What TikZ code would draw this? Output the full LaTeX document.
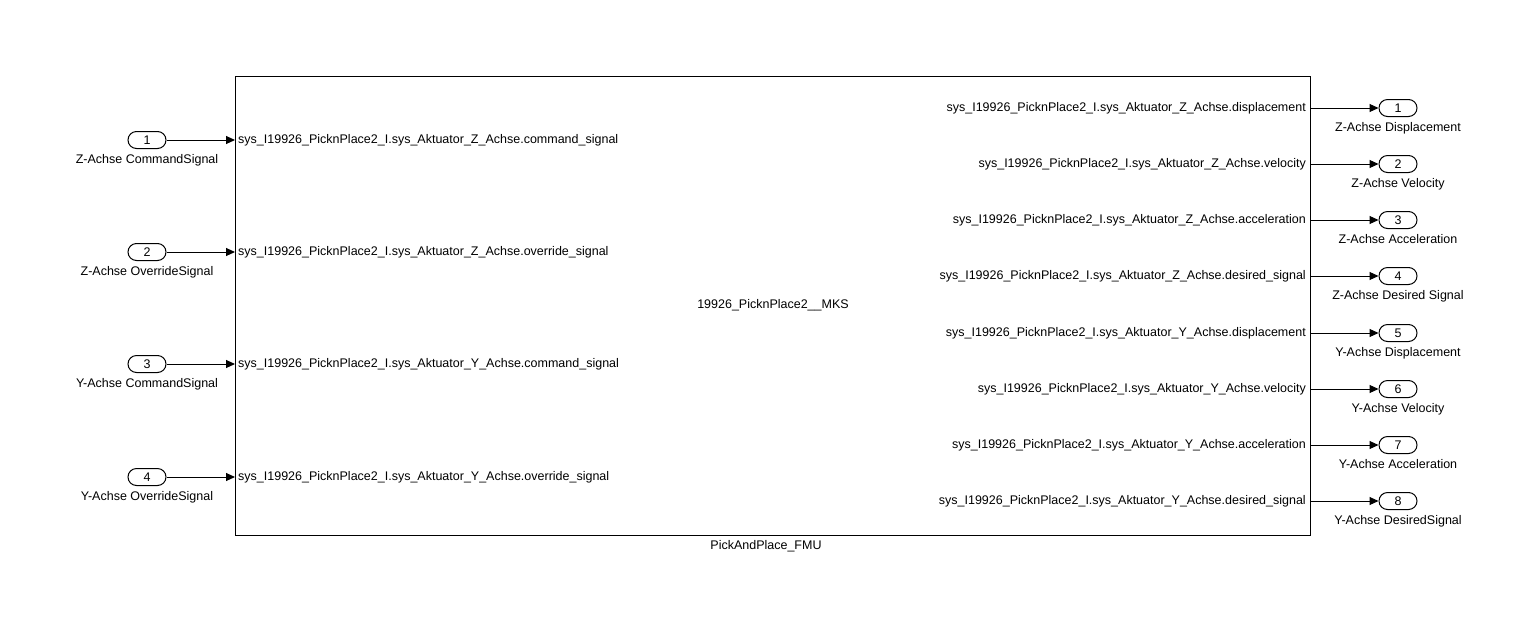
\documentclass[tikz,border=0pt]{standalone}
\usepackage{fontspec}
\setmainfont{Liberation Sans}
\usetikzlibrary{arrows.meta}
\begin{document}
\begin{tikzpicture}[x=1pt,y=-1pt,
  sig/.style={-{Triangle[length=9pt,width=8pt]},line width=1pt},
  port/.style={draw,line width=1pt,rounded corners=8.5pt,minimum width=38pt,minimum height=17pt,inner sep=0pt,font=\fontsize{12.5}{14}\selectfont},
  plabel/.style={font=\fontsize{12.5}{14}\selectfont,inner sep=0pt},
  txt/.style={font=\fontsize{12.5}{14}\selectfont,inner sep=0pt}]
\useasboundingbox (0,0) rectangle (1540,630);
\node[draw,line width=1pt,minimum width=1075pt,minimum height=459pt,inner sep=0pt,anchor=north west] (blk) at (235,76) {};
\node[txt] (blkname) at (773,305) {19926\_PicknPlace2\_\_MKS};
\node[txt,anchor=north] (blklabel) at (766,540) {PickAndPlace\_FMU};
% inputs
\foreach \i/\y/\lab/\sig in {1/140/Z-Achse CommandSignal/sys\_I19926\_PicknPlace2\_I.sys\_Aktuator\_Z\_Achse.command\_signal,
  2/252/Z-Achse OverrideSignal/sys\_I19926\_PicknPlace2\_I.sys\_Aktuator\_Z\_Achse.override\_signal,
  3/364/Y-Achse CommandSignal/sys\_I19926\_PicknPlace2\_I.sys\_Aktuator\_Y\_Achse.command\_signal,
  4/477/Y-Achse OverrideSignal/sys\_I19926\_PicknPlace2\_I.sys\_Aktuator\_Y\_Achse.override\_signal}{
  \node[port] (in\i) at (147,\y) {\i};
  \node[plabel,anchor=north] (inl\i) at (147,\y+14) {\lab};
  \coordinate (inp\i) at (235,\y);
  \node[txt,anchor=west] (ins\i) at (238,\y+0.5) {\sig};
  \draw[sig] (in\i.east) -- (inp\i);
}
% outputs
\foreach \i/\y/\lab/\sig in {1/108/Z-Achse Displacement/sys\_I19926\_PicknPlace2\_I.sys\_Aktuator\_Z\_Achse.displacement,
  2/164/Z-Achse Velocity/sys\_I19926\_PicknPlace2\_I.sys\_Aktuator\_Z\_Achse.velocity,
  3/220/Z-Achse Acceleration/sys\_I19926\_PicknPlace2\_I.sys\_Aktuator\_Z\_Achse.acceleration,
  4/276/Z-Achse Desired Signal/sys\_I19926\_PicknPlace2\_I.sys\_Aktuator\_Z\_Achse.desired\_signal,
  5/333/Y-Achse Displacement/sys\_I19926\_PicknPlace2\_I.sys\_Aktuator\_Y\_Achse.displacement,
  6/389/Y-Achse Velocity/sys\_I19926\_PicknPlace2\_I.sys\_Aktuator\_Y\_Achse.velocity,
  7/445/Y-Achse Acceleration/sys\_I19926\_PicknPlace2\_I.sys\_Aktuator\_Y\_Achse.acceleration,
  8/501/Y-Achse DesiredSignal/sys\_I19926\_PicknPlace2\_I.sys\_Aktuator\_Y\_Achse.desired\_signal}{
  \node[port] (out\i) at (1398,\y) {\i};
  \node[plabel,anchor=north] (outl\i) at (1398,\y+14) {\lab};
  \coordinate (outp\i) at (1310,\y);
  \node[txt,anchor=east] (outs\i) at (1306,\y+0.5) {\sig};
  \draw[sig] (outp\i) -- (out\i.west);
}
\end{tikzpicture}
\end{document}
